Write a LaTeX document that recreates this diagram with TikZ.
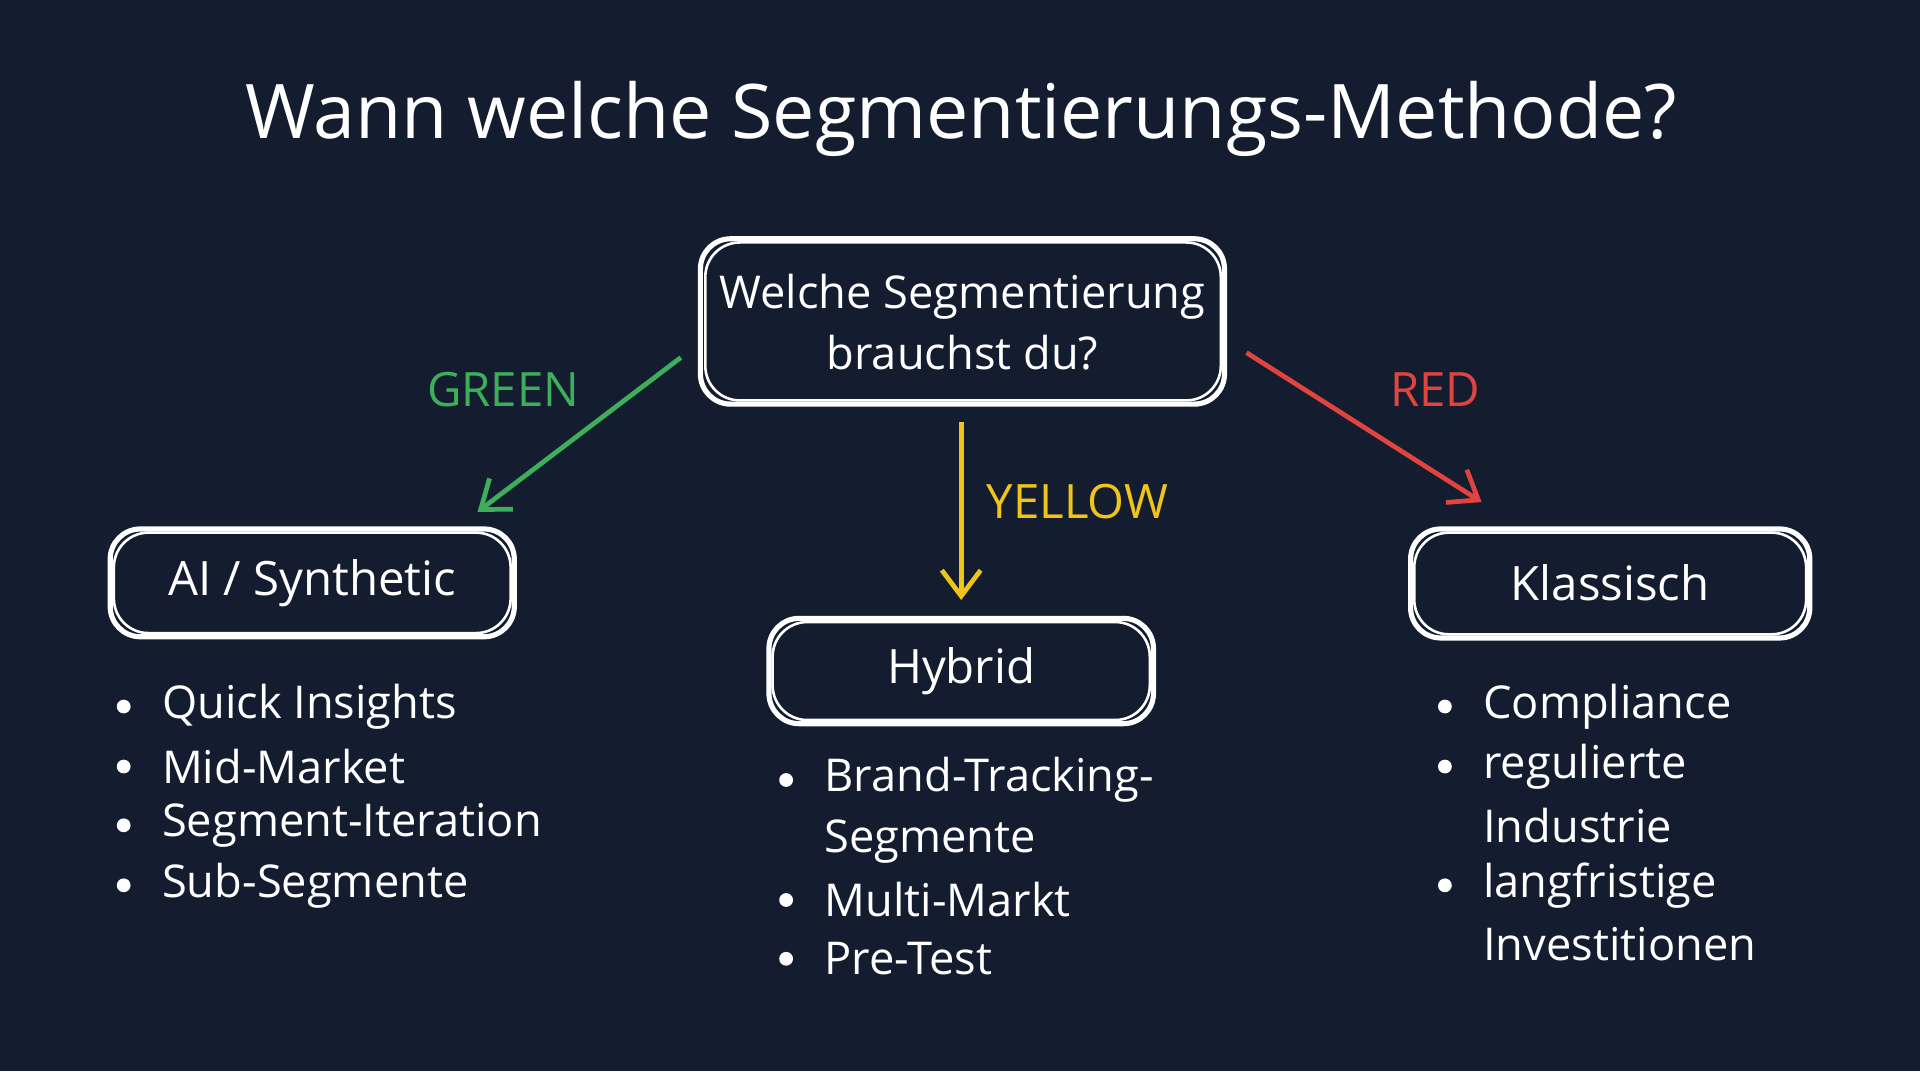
\documentclass[tikz,border=0pt]{standalone}
\usepackage{fontspec}
\setmainfont{Open Sans}
\usetikzlibrary{arrows.meta}
\definecolor{bg}{HTML}{141D30}
\definecolor{gr}{HTML}{3DAE5A}
\definecolor{ye}{HTML}{F0C419}
\definecolor{re}{HTML}{E0443E}
\begin{document}
\begin{tikzpicture}[x=0.01cm,y=-0.01cm,
  box/.style={draw=white,line width=1.2pt,rounded corners=7pt,text=white},
  box2/.style={draw=white,line width=0.6pt,rounded corners=8pt},
  txt/.style={text=white,font=\fontsize{10.5}{14}\selectfont,anchor=west},
  bul/.style={fill=white,circle,inner sep=0pt,minimum size=3.2pt},
  lab/.style={font=\fontsize{11}{13}\selectfont},
  arr/.style={line width=1.1pt,-{Straight Barb[length=6pt,width=9pt]}}]
\fill[bg] (0,0) rectangle (1568,875);
\useasboundingbox (0,0) rectangle (1568,875);
\node[text=white,font=\fontsize{17.5}{21}\selectfont] (title) at (785,97) {Wann welche Segmentierungs-Methode?};
% boxes
\draw[box] (572,195) rectangle (1000,330);
\draw[box2] (576,198) rectangle (997,327);
\node[text=white,align=center,font=\fontsize{10.5}{14}\selectfont] (q) at (786,263) {Welche Segmentierung\\brauchst du?};
\coordinate (qg) at (556,292); \coordinate (qy) at (785,345); \coordinate (qr) at (1018,288);
\draw[box] (90,432) rectangle (420,520);
\draw[box2] (93,435) rectangle (417,517);
\node[text=white,font=\fontsize{11}{14}\selectfont] (ai) at (255,476) {AI / Synthetic};
\draw[box] (628,505) rectangle (942,591);
\draw[box2] (631,508) rectangle (939,588);
\node[text=white,font=\fontsize{11}{14}\selectfont] (hy) at (785,548) {Hybrid};
\draw[box] (1152,432) rectangle (1478,521);
\draw[box2] (1155,435) rectangle (1475,518);
\node[text=white,font=\fontsize{11}{14}\selectfont] (kl) at (1315,476) {Klassisch};
\coordinate (ait) at (390,418); \coordinate (hyt) at (785,490); \coordinate (klt) at (1210,410);
% arrows
\draw[arr,gr] (qg) -- (ait);
\draw[arr,ye] (qy) -- (hyt);
\draw[arr,re] (qr) -- (klt);
\node[lab,text=gr] (lg) at (411,318) {GREEN};
\node[lab,text=ye] (ly) at (880,410) {YELLOW};
\node[lab,text=re] (lr) at (1172,318) {RED};
% lists
\foreach \y/\t [count=\i] in {577/Quick Insights,626/Mid-Market,674/Segment-Iteration,723/Sub-Segmente}{
  \node[bul] (ab\i) at (101,\y) {}; \node[txt] (at\i) at (120,\y) {\t};}
\foreach \y [count=\i] in {637,735,783}{\node[bul] (hb\i) at (642,\y) {};}
\node[txt] (ht1) at (661,637) {Brand-Tracking-};
\node[txt] (ht1b) at (661,687) {Segmente};
\node[txt] (ht2) at (661,735) {Multi-Markt};
\node[txt] (ht3) at (661,783) {Pre-Test};
\foreach \y [count=\i] in {577,626,723}{\node[bul] (kb\i) at (1180,\y) {};}
\node[txt] (kt1) at (1199,577) {Compliance};
\node[txt] (kt2) at (1199,626) {regulierte};
\node[txt] (kt2b) at (1199,674) {Industrie};
\node[txt] (kt3) at (1199,723) {langfristige};
\node[txt] (kt3b) at (1199,771) {Investitionen};
\end{tikzpicture}
\end{document}
